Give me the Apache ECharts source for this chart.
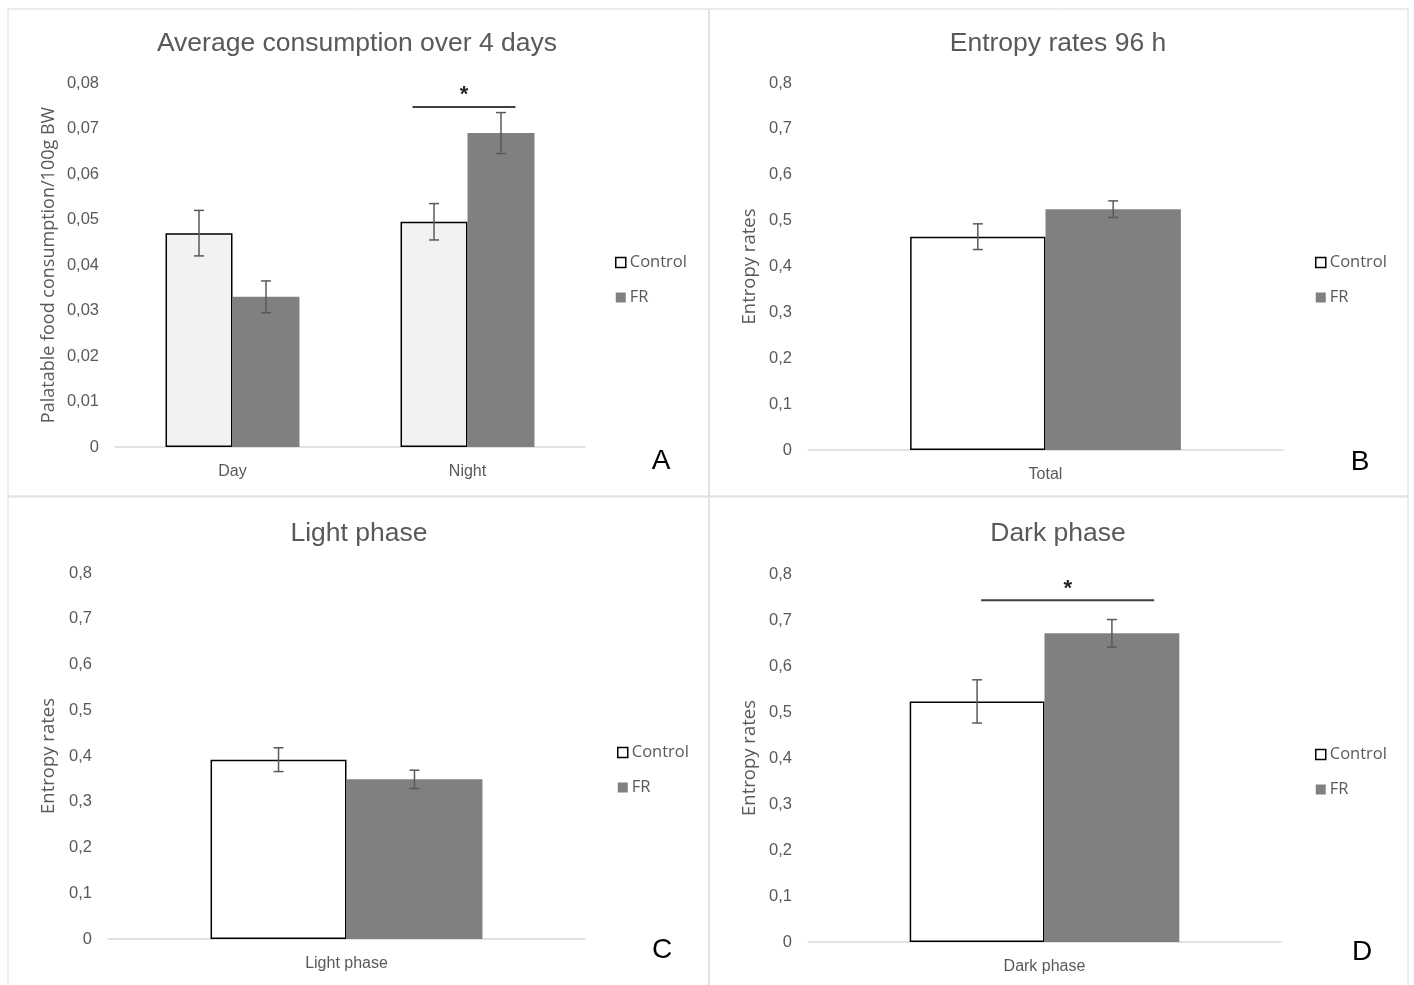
<!DOCTYPE html>
<html>
<head>
<meta charset="utf-8">
<script src="https://cdn.jsdelivr.net/npm/echarts@6/dist/echarts.min.js"></script>
<style>html,body{margin:0;padding:0;background:#fff;}#c{width:1414px;height:985px;}</style>
</head>
<body>
<div id="c"></div>
<script>
// ---- data ----
const categoriesA = ['Day', 'Night'];
const controlA = [0.047, 0.0495];
const controlErrA = [0.005, 0.004];
const frA = [0.033, 0.069];
const frErrA = [0.0035, 0.0045];

const categoriesB = ['Total'];
const controlB = [0.465];
const controlErrB = [0.028];
const frB = [0.525];
const frErrB = [0.018];

const categoriesC = ['Light phase'];
const controlC = [0.392];
const controlErrC = [0.026];
const frC = [0.349];
const frErrC = [0.02];

const categoriesD = ['Dark phase'];
const controlD = [0.523];
const controlErrD = [0.047];
const frD = [0.671];
const frErrD = [0.03];

const yMaxA = 0.08, yIntA = 0.01;
const yMaxE = 0.8, yIntE = 0.1;

// significance markers: [categoryIndex, lineValue, starValue]
const sigA = [[1, 0.0747, 0.0782]];
const sigD = [[0, 0.743, 0.776]];

const titles = ['Average consumption over 4 days', 'Entropy rates 96 h', 'Light phase', 'Dark phase'];
const panelLetters = ['A', 'B', 'C', 'D'];

// ---- style ----
const FONT = 'Liberation Sans';
const NAMEFONT = 'Open Sans';
const TXT = '#595959';
const BAR_FRAC = 0.57;

const chart = echarts.init(document.getElementById('c'));

const grids = [
  {left: 115, right: 829, top: 83, bottom: 538},
  {left: 808, right: 131, top: 83, bottom: 535},
  {left: 108, right: 829, top: 573, bottom: 46},
  {left: 808, right: 133, top: 574, bottom: 43}
];

function xAx(gi, cats) {
  return {
    type: 'category', gridIndex: gi, data: cats,
    axisLine: {show: true, lineStyle: {color: '#d9d9d9', width: 1.5}},
    axisTick: {show: false},
    axisLabel: {color: TXT, fontFamily: FONT, fontSize: 16, margin: 17}
  };
}
function yAx(gi, max, interval, dec, name, gap, nameSize) {
  return {
    type: 'value', gridIndex: gi, min: 0, max: max, interval: interval,
    name: name, nameLocation: 'middle', nameGap: gap, nameRotate: 90,
    nameTextStyle: {color: TXT, fontFamily: NAMEFONT, fontSize: nameSize},
    axisLine: {show: false}, axisTick: {show: false}, splitLine: {show: false},
    axisLabel: {color: TXT, fontFamily: FONT, fontSize: 16.5, margin: 16,
      formatter: v => v === 0 ? '0' : v.toFixed(dec).replace('.', ',')}
  };
}

function errRender(side) {
  return function (params, api) {
    const i = api.value(0), m = api.value(1), e = api.value(2);
    const band = api.size([1, 0])[0];
    const c = api.coord([i, m]);
    const hi = api.coord([i, m + e]);
    const lo = api.coord([i, m - e]);
    const x = c[0] + side * band * BAR_FRAC / 4;
    const cap = 5;
    const st = {stroke: '#595959', lineWidth: 1.5};
    return {type: 'group', children: [
      {type: 'line', shape: {x1: x, y1: hi[1], x2: x, y2: lo[1]}, style: st},
      {type: 'line', shape: {x1: x - cap, y1: hi[1], x2: x + cap, y2: hi[1]}, style: st},
      {type: 'line', shape: {x1: x - cap, y1: lo[1], x2: x + cap, y2: lo[1]}, style: st}
    ]};
  };
}

function sigRender(fromFrac, toFrac) {
  return function (params, api) {
    const i = api.value(0);
    const band = api.size([1, 0])[0];
    const l = api.coord([i, api.value(1)]);
    const s = api.coord([i, api.value(2)]);
    const x1 = l[0] + fromFrac * band, x2 = l[0] + toFrac * band;
    return {type: 'group', children: [
      {type: 'line', shape: {x1: x1, y1: l[1], x2: x2, y2: l[1]}, style: {stroke: '#404040', lineWidth: 2}},
      {type: 'text', style: {text: '*', x: (x1 + x2) / 2, y: s[1] + 4, align: 'center', verticalAlign: 'middle',
        fill: '#262626', font: 'bold 22px ' + FONT}}
    ]};
  };
}

function panelSeries(gi, cats, ctrl, ctrlErr, fr, frErr, ctrlColor) {
  return [
    {name: 'Control', type: 'bar', xAxisIndex: gi, yAxisIndex: gi, data: ctrl,
      barGap: '0%', barCategoryGap: '43%',
      itemStyle: {color: ctrlColor, borderColor: '#000', borderWidth: 1.5}},
    {name: 'FR', type: 'bar', xAxisIndex: gi, yAxisIndex: gi, data: fr,
      barGap: '0%', barCategoryGap: '43%',
      itemStyle: {color: '#808080'}},
    {type: 'custom', xAxisIndex: gi, yAxisIndex: gi, z: 5, renderItem: errRender(-1),
      data: cats.map((c, i) => [i, ctrl[i], ctrlErr[i]])},
    {type: 'custom', xAxisIndex: gi, yAxisIndex: gi, z: 5, renderItem: errRender(1),
      data: cats.map((c, i) => [i, fr[i], frErr[i]])}
  ];
}

function legendAt(left, top) {
  return {
    orient: 'vertical', left: left, top: top, itemWidth: 10, itemHeight: 10, itemGap: 18,
    padding: 0,
    textStyle: {color: TXT, fontFamily: NAMEFONT, fontSize: 16.5, padding: [0, 0, 0, -1]},
    selectedMode: false,
    data: [
      {name: 'Control', icon: 'rect', itemStyle: {color: '#fff', borderColor: '#000', borderWidth: 1.5}},
      {name: 'FR', icon: 'rect', itemStyle: {color: '#808080', borderWidth: 0}}
    ]
  };
}

const titlePos = [[357, 44], [1058, 44], [359, 534], [1058, 534]];
const letterPos = [[661, 461], [1360, 462], [662, 950], [1362, 952]];
const graphics = [];
// panel borders
[[8, 9, 701, 487], [709, 9, 699, 487], [8, 497, 701, 490], [709, 497, 699, 490]].forEach(r => {
  graphics.push({type: 'rect', shape: {x: r[0], y: r[1], width: r[2], height: r[3]},
    style: {fill: 'none', stroke: '#d9d9d9', lineWidth: 1}, silent: true});
});
titles.forEach((t, k) => graphics.push({type: 'text', x: titlePos[k][0], y: titlePos[k][1],
  style: {text: t, align: 'center', verticalAlign: 'middle', fill: TXT, font: '26.5px ' + FONT}}));
panelLetters.forEach((t, k) => graphics.push({type: 'text', x: letterPos[k][0], y: letterPos[k][1],
  style: {text: t, align: 'center', verticalAlign: 'middle', fill: '#000', font: '28px ' + FONT}}));

const option = {
  backgroundColor: '#fff',
  animation: false,
  grid: grids,
  xAxis: [xAx(0, categoriesA), xAx(1, categoriesB), xAx(2, categoriesC), xAx(3, categoriesD)],
  yAxis: [
    yAx(0, yMaxA, yIntA, 2, 'Palatable food consumption/100g BW', 57, 18),
    yAx(1, yMaxE, yIntE, 1, 'Entropy rates', 49, 18.5),
    yAx(2, yMaxE, yIntE, 1, 'Entropy rates', 50, 18.5),
    yAx(3, yMaxE, yIntE, 1, 'Entropy rates', 49, 18.5)
  ],
  legend: [legendAt(615, 254), legendAt(1315, 254), legendAt(617, 744), legendAt(1315, 746)],
  series: [].concat(
    panelSeries(0, categoriesA, controlA, controlErrA, frA, frErrA, '#f2f2f2'),
    panelSeries(1, categoriesB, controlB, controlErrB, frB, frErrB, '#ffffff'),
    panelSeries(2, categoriesC, controlC, controlErrC, frC, frErrC, '#ffffff'),
    panelSeries(3, categoriesD, controlD, controlErrD, frD, frErrD, '#ffffff'),
    [
      {type: 'custom', xAxisIndex: 0, yAxisIndex: 0, z: 6, renderItem: sigRender(-0.234, 0.204), data: sigA},
      {type: 'custom', xAxisIndex: 3, yAxisIndex: 3, z: 6, renderItem: sigRender(-0.134, 0.232), data: sigD}
    ]
  ),
  graphic: graphics
};
chart.setOption(option);
</script>
</body>
</html>
